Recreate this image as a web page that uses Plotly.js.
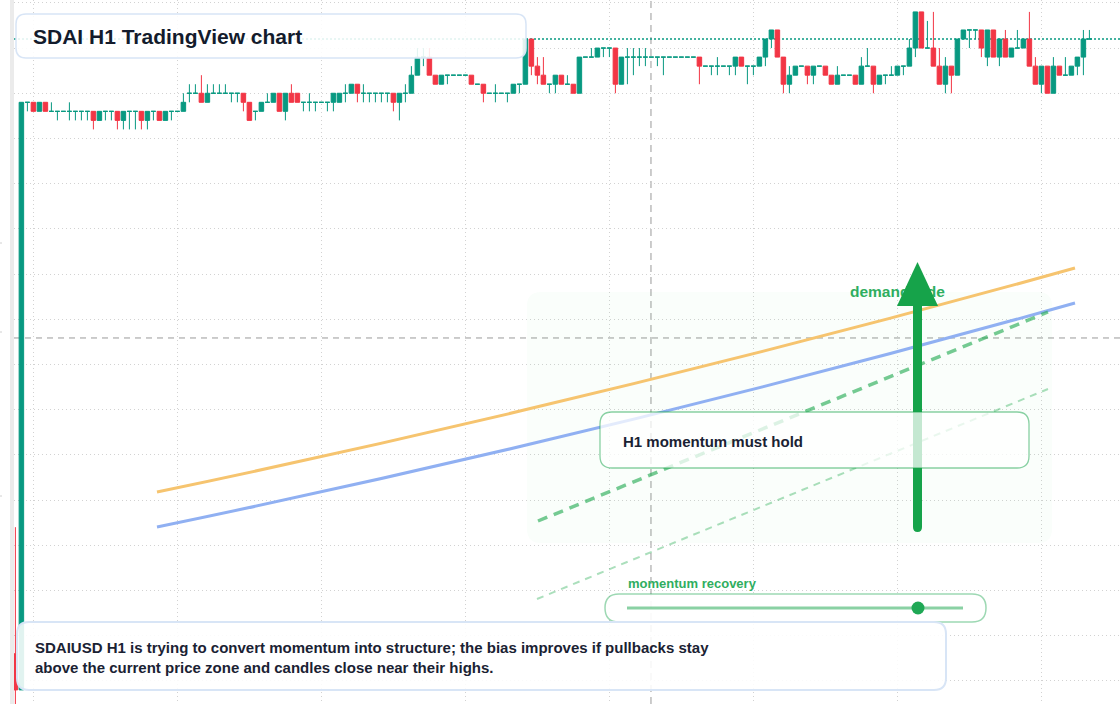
<!DOCTYPE html>
<html><head><meta charset="utf-8">
<script src="https://cdn.plot.ly/plotly-3.0.1.min.js"></script>
<style>html,body{margin:0;padding:0;background:#fff;}#chart{width:1120px;height:704px;}</style>
</head><body><div id="chart"></div>
<script>
// ---- data: SDAIUSD H1 candles (first bar 2024-05-01 21:00 UTC, one bar per hour) ----
const firstBar = [2024, 4, 1, 21];
const open = [
1.1469,1.1465,1.1530,1.1530,1.1529,1.1530,1.1529,1.1529,1.1529,1.1529,
1.1529,1.1529,1.1529,1.1529,1.1528,1.1529,1.1529,1.1529,1.1528,1.1529,
1.1529,1.1529,1.1528,1.1529,1.1529,1.1528,1.1529,1.1529,1.1529,1.1531,
1.1531,1.1531,1.1530,1.1531,1.1531,1.1531,1.1531,1.1531,1.1531,1.1530,
1.1529,1.1529,1.1530,1.1530,1.1531,1.1529,1.1531,1.1531,1.1530,1.1530,
1.1530,1.1530,1.1530,1.1530,1.1530,1.1531,1.1531,1.1532,1.1531,1.1531,
1.1531,1.1531,1.1531,1.1531,1.1530,1.1531,1.1531,1.1533,1.1535,1.1535,
1.1533,1.1532,1.1533,1.1533,1.1533,1.1533,1.1533,1.1532,1.1532,1.1531,
1.1531,1.1531,1.1531,1.1531,1.1532,1.1532,1.1537,1.1534,1.1533,1.1532,
1.1532,1.1533,1.1532,1.1532,1.1531,1.1535,1.1535,1.1535,1.1536,1.1536,
1.1536,1.1532,1.1535,1.1535,1.1535,1.1535,1.1535,1.1535,1.1535,1.1535,
1.1535,1.1535,1.1535,1.1535,1.1535,1.1534,1.1534,1.1534,1.1534,1.1534,
1.1534,1.1535,1.1534,1.1534,1.1534,1.1535,1.1537,1.1538,1.1535,1.1532,
1.1533,1.1534,1.1534,1.1533,1.1534,1.1534,1.1533,1.1532,1.1533,1.1533,
1.1533,1.1532,1.1534,1.1534,1.1532,1.1533,1.1533,1.1533,1.1534,1.1534,
1.1536,1.1540,1.1536,1.1536,1.1534,1.1532,1.1534,1.1533,1.1537,1.1538,
1.1538,1.1538,1.1535,1.1538,1.1535,1.1537,1.1535,1.1536,1.1536,1.1537,
1.1534,1.1532,1.1534,1.1531,1.1534,1.1533,1.1533,1.1534,1.1535,1.1537];
const high = [
1.1483,1.1530,1.1530,1.1530,1.1530,1.1530,1.1530,1.1529,1.1529,1.1530,
1.1529,1.1529,1.1529,1.1529,1.1529,1.1529,1.1529,1.1529,1.1529,1.1529,
1.1529,1.1529,1.1529,1.1529,1.1529,1.1529,1.1529,1.1529,1.1531,1.1532,
1.1532,1.1533,1.1532,1.1532,1.1532,1.1532,1.1531,1.1531,1.1531,1.1530,
1.1529,1.1530,1.1531,1.1531,1.1531,1.1531,1.1532,1.1531,1.1530,1.1531,
1.1530,1.1530,1.1530,1.1531,1.1531,1.1532,1.1532,1.1532,1.1532,1.1531,
1.1531,1.1531,1.1531,1.1531,1.1531,1.1532,1.1534,1.1536,1.1536,1.1536,
1.1533,1.1533,1.1533,1.1533,1.1533,1.1533,1.1533,1.1532,1.1532,1.1531,
1.1532,1.1531,1.1531,1.1532,1.1532,1.1537,1.1537,1.1535,1.1535,1.1532,
1.1533,1.1533,1.1533,1.1532,1.1535,1.1535,1.1536,1.1536,1.1536,1.1536,
1.1536,1.1535,1.1536,1.1536,1.1536,1.1536,1.1535,1.1535,1.1535,1.1535,
1.1535,1.1535,1.1535,1.1535,1.1535,1.1534,1.1534,1.1535,1.1534,1.1534,
1.1535,1.1535,1.1534,1.1534,1.1535,1.1537,1.1538,1.1538,1.1535,1.1534,
1.1534,1.1534,1.1534,1.1534,1.1534,1.1534,1.1533,1.1534,1.1533,1.1533,
1.1533,1.1535,1.1536,1.1534,1.1533,1.1533,1.1534,1.1534,1.1534,1.1537,
1.1540,1.1540,1.1539,1.1540,1.1536,1.1535,1.1534,1.1537,1.1538,1.1538,
1.1538,1.1538,1.1538,1.1538,1.1537,1.1538,1.1536,1.1538,1.1537,1.1540,
1.1535,1.1534,1.1534,1.1535,1.1534,1.1535,1.1534,1.1535,1.1538,1.1538];
const low = [
1.1462,1.1465,1.1529,1.1529,1.1529,1.1529,1.1529,1.1528,1.1529,1.1528,
1.1528,1.1528,1.1528,1.1527,1.1528,1.1528,1.1528,1.1527,1.1527,1.1527,
1.1527,1.1527,1.1527,1.1528,1.1528,1.1528,1.1528,1.1529,1.1529,1.1530,
1.1531,1.1530,1.1530,1.1531,1.1531,1.1531,1.1530,1.1530,1.1529,1.1528,
1.1528,1.1529,1.1530,1.1530,1.1529,1.1528,1.1530,1.1530,1.1529,1.1529,
1.1529,1.1530,1.1529,1.1529,1.1530,1.1530,1.1531,1.1530,1.1530,1.1530,
1.1530,1.1530,1.1530,1.1529,1.1528,1.1530,1.1531,1.1533,1.1534,1.1533,
1.1532,1.1532,1.1532,1.1533,1.1533,1.1533,1.1532,1.1532,1.1530,1.1531,
1.1530,1.1531,1.1530,1.1531,1.1531,1.1532,1.1533,1.1532,1.1532,1.1531,
1.1531,1.1532,1.1532,1.1531,1.1531,1.1535,1.1535,1.1535,1.1535,1.1535,
1.1531,1.1532,1.1532,1.1533,1.1534,1.1534,1.1535,1.1534,1.1533,1.1535,
1.1535,1.1535,1.1535,1.1535,1.1532,1.1534,1.1533,1.1533,1.1534,1.1533,
1.1533,1.1534,1.1532,1.1533,1.1534,1.1534,1.1536,1.1535,1.1531,1.1531,
1.1533,1.1534,1.1532,1.1532,1.1534,1.1533,1.1532,1.1532,1.1533,1.1533,
1.1532,1.1532,1.1534,1.1531,1.1532,1.1532,1.1533,1.1533,1.1533,1.1534,
1.1535,1.1536,1.1536,1.1534,1.1532,1.1531,1.1531,1.1533,1.1537,1.1536,
1.1537,1.1535,1.1534,1.1535,1.1534,1.1535,1.1535,1.1536,1.1536,1.1534,
1.1532,1.1531,1.1531,1.1531,1.1533,1.1533,1.1533,1.1533,1.1533,1.1537];
const close = [
1.1465,1.1530,1.1530,1.1529,1.1530,1.1529,1.1529,1.1529,1.1529,1.1529,
1.1529,1.1529,1.1529,1.1528,1.1529,1.1529,1.1529,1.1528,1.1529,1.1529,
1.1529,1.1528,1.1529,1.1529,1.1528,1.1529,1.1529,1.1529,1.1530,1.1531,
1.1531,1.1530,1.1531,1.1531,1.1531,1.1531,1.1531,1.1531,1.1530,1.1528,
1.1529,1.1530,1.1530,1.1531,1.1529,1.1531,1.1530,1.1530,1.1530,1.1530,
1.1530,1.1530,1.1530,1.1531,1.1531,1.1531,1.1532,1.1531,1.1531,1.1531,
1.1531,1.1531,1.1531,1.1530,1.1531,1.1531,1.1533,1.1535,1.1535,1.1533,
1.1532,1.1533,1.1533,1.1533,1.1533,1.1533,1.1532,1.1532,1.1531,1.1531,
1.1531,1.1531,1.1531,1.1532,1.1532,1.1537,1.1534,1.1533,1.1532,1.1532,
1.1533,1.1532,1.1532,1.1531,1.1535,1.1535,1.1535,1.1536,1.1536,1.1536,
1.1532,1.1535,1.1535,1.1535,1.1535,1.1535,1.1535,1.1535,1.1535,1.1535,
1.1535,1.1535,1.1535,1.1535,1.1534,1.1534,1.1534,1.1534,1.1534,1.1534,
1.1535,1.1534,1.1534,1.1534,1.1535,1.1537,1.1538,1.1535,1.1532,1.1533,
1.1534,1.1534,1.1533,1.1534,1.1534,1.1533,1.1532,1.1533,1.1533,1.1533,
1.1532,1.1534,1.1534,1.1532,1.1533,1.1533,1.1533,1.1534,1.1534,1.1536,
1.1540,1.1536,1.1536,1.1534,1.1532,1.1534,1.1533,1.1537,1.1538,1.1538,
1.1538,1.1536,1.1538,1.1535,1.1537,1.1535,1.1536,1.1536,1.1537,1.1534,
1.1532,1.1534,1.1531,1.1534,1.1533,1.1533,1.1534,1.1535,1.1537,1.1537];

const titleText = 'SDAI H1 TradingView chart';
const noteLines = ['SDAIUSD H1 is trying to convert momentum into structure; the bias improves if pullbacks stay',
                   'above the current price zone and candles close near their highs.'];
const holdLabel = 'H1 momentum must hold';
const zoneLabel = 'demand side';
const sliderLabel = 'momentum recovery';

// ---- helpers ----
const HOUR = 3600000;
const t0 = Date.UTC(firstBar[0], firstBar[1], firstBar[2], firstBar[3]);
function fmt(ms){
  const d = new Date(ms), p = n => String(n).padStart(2,'0');
  return d.getUTCFullYear()+'-'+p(d.getUTCMonth()+1)+'-'+p(d.getUTCDate())+' '+
         p(d.getUTCHours())+':'+p(d.getUTCMinutes())+':'+p(d.getUTCSeconds());
}
const time = open.map((_, i) => fmt(t0 + i*HOUR));
const upIdx = [], dnIdx = [];
open.forEach((o, i) => (close[i] >= o ? upIdx : dnIdx).push(i));
const pick = (arr, idx) => idx.map(i => arr[i]);

const TEAL = '#089981', RED = '#f23645';
function candleTrace(idx, color){
  return {
    type:'candlestick', x:pick(time,idx), open:pick(open,idx), high:pick(high,idx),
    low:pick(low,idx), close:pick(close,idx), whiskerwidth:0, hoverinfo:'skip', showlegend:false,
    increasing:{line:{color:color,width:1}, fillcolor:color},
    decreasing:{line:{color:color,width:1}, fillcolor:color}
  };
}
function rr(x0,y0,x1,y1,r){
  return `M${x0+r},${y0} L${x1-r},${y0} Q${x1},${y0} ${x1},${y0+r} L${x1},${y1-r} Q${x1},${y1} ${x1-r},${y1} `+
         `L${x0+r},${y1} Q${x0},${y1} ${x0},${y1-r} L${x0},${y0+r} Q${x0},${y0} ${x0+r},${y0} Z`;
}
const FONT = 'Liberation Sans, Arial, Helvetica, sans-serif';
const GREEN = '#16a34a';

const traces = [
  candleTrace(upIdx, TEAL),
  candleTrace(dnIdx, RED),
  {type:'scatter', mode:'text', x:[850], y:[293], text:[zoneLabel], textposition:'middle right',
   textfont:{family:FONT, size:15.5, color:'#2fae60', weight:700}, xaxis:'x2', yaxis:'y2',
   hoverinfo:'skip', showlegend:false}
];

const P = (extra) => Object.assign({xref:'x2', yref:'y2', layer:'above'}, extra);
const shapes = [
  // left scale strip and faint marks
  {type:'rect', xref:'paper', yref:'paper', x0:10/1120, x1:14/1120, y0:0, y1:1, fillcolor:'#ebebeb', line:{width:0}, layer:'above'},
  {type:'line', xref:'paper', yref:'paper', x0:0, x1:2/1120, y0:1-243/704, y1:1-243/704, line:{color:'#d0d0d0', width:1}},
  {type:'line', xref:'paper', yref:'paper', x0:0, x1:2/1120, y0:1-332/704, y1:1-332/704, line:{color:'#d0d0d0', width:1}},
  {type:'line', xref:'paper', yref:'paper', x0:0, x1:2/1120, y0:1-496/704, y1:1-496/704, line:{color:'#d0d0d0', width:1}},
  // crosshair + last price line
  {type:'line', xref:'paper', yref:'y', x0:14/1120, x1:1, y0:1.150393, y1:1.150393, layer:'below',
   line:{color:'#9a9a9a', width:1, dash:'6px,5px'}},
  {type:'line', xref:'x', yref:'paper', x0:fmt(t0+105.93*HOUR), x1:fmt(t0+105.93*HOUR), y0:0, y1:1, layer:'below',
   line:{color:'#9a9a9a', width:1, dash:'7px,5px'}},
  {type:'line', xref:'paper', yref:'y', x0:14/1120, x1:1, y0:close[close.length-1], y1:close[close.length-1], layer:'below',
   line:{color:TEAL, width:1.3, dash:'2px,2px'}},
  // demand zone
  P({type:'path', path:rr(527,292,1052,543,14), fillcolor:'rgba(34,197,94,0.022)', line:{width:0}}),
  // trend curves
  P({type:'path', path:'M157,492 Q616,396 1075,268', line:{color:'#f6c46f', width:3}}),
  P({type:'path', path:'M157,527 Q616,432 1075,303', line:{color:'#90b0f2', width:3}}),
  P({type:'line', x0:538, y0:521, x1:1048, y1:312, line:{color:'rgba(34,170,80,0.62)', width:3.5, dash:'10px,7px'}}),
  P({type:'line', x0:537, y0:599, x1:1048, y1:389, line:{color:'rgba(34,170,80,0.38)', width:2, dash:'7px,6px'}}),
  // arrow
  P({type:'path', path:'M913,300 L913,527 Q913,532 917.5,532 Q922,532 922,527 L922,300 Z', fillcolor:GREEN, line:{width:0}}),
  P({type:'path', path:'M897,306 L917.5,262 L938,306 Z', fillcolor:GREEN, line:{width:0}}),
  // hold box
  P({type:'path', path:rr(600,412,1029,468,12), fillcolor:'rgba(255,255,255,0.75)', line:{color:'rgba(22,163,74,0.5)', width:1.3}}),
  // slider pill
  P({type:'path', path:rr(605,594,986,622,14), fillcolor:'rgba(255,255,255,0.92)', line:{color:'rgba(22,163,74,0.42)', width:1.5}}),
  P({type:'line', x0:627, y0:608, x1:963, y1:608, line:{color:'rgba(22,163,74,0.5)', width:3}}),
  P({type:'circle', x0:911.5, x1:924.5, y0:601.5, y1:614.5, fillcolor:'#1fa855', line:{width:0}}),
  // title box
  P({type:'path', path:rr(16,14,526,58,10), fillcolor:'rgba(255,255,255,0.88)', line:{color:'#d8e5f6', width:1.5}}),
  // note box
  P({type:'path', path:rr(17,622,946,690,12), fillcolor:'rgba(255,255,255,0.88)', line:{color:'#d8e5f6', width:2}})
];

const ann = (text, x, y, size, color) => ({xref:'x2', yref:'y2', x:x, y:y, text:text, showarrow:false,
  xanchor:'left', yanchor:'middle', align:'left', font:{family:FONT, size:size, color:color, weight:700}});
const annotations = [
  ann(titleText, 31, 36, 21, '#131b2c'),
  ann(holdLabel, 621, 441, 15, '#1a2233'),
  ann(sliderLabel, 626, 583, 13, '#2fae60'),
  ann(noteLines.join('<br>'), 33, 657, 15, '#1a2233')
];

const grid = {showgrid:true, gridcolor:'#d2d2d2', gridwidth:1, griddash:'1px,3px', zeroline:false,
  showline:false, showticklabels:false, ticks:'', fixedrange:true};
const layout = {
  width:1120, height:704, margin:{l:0, r:0, t:0, b:0},
  paper_bgcolor:'#ffffff', plot_bgcolor:'#ffffff', showlegend:false,
  boxgap:0.25, boxgroupgap:0,
  xaxis: Object.assign({type:'date', domain:[14/1120, 1],
    range:[fmt(t0-0.233*HOUR), fmt(t0+184.1*HOUR)],
    tickmode:'linear', tick0:'2024-05-02 00:00', dtick:86400000, rangeslider:{visible:false}}, grid),
  yaxis: Object.assign({range:[1.146344, 1.1541316], tickmode:'linear', tick0:1.1531, dtick:0.0005}, grid),
  xaxis2:{overlaying:'x', anchor:'y2', range:[14,1120], visible:false, fixedrange:true},
  yaxis2:{overlaying:'y', anchor:'x2', range:[704,0], visible:false, fixedrange:true},
  shapes:shapes, annotations:annotations
};
Plotly.newPlot('chart', traces, layout, {staticPlot:true, displayModeBar:false});
</script>
</body></html>
